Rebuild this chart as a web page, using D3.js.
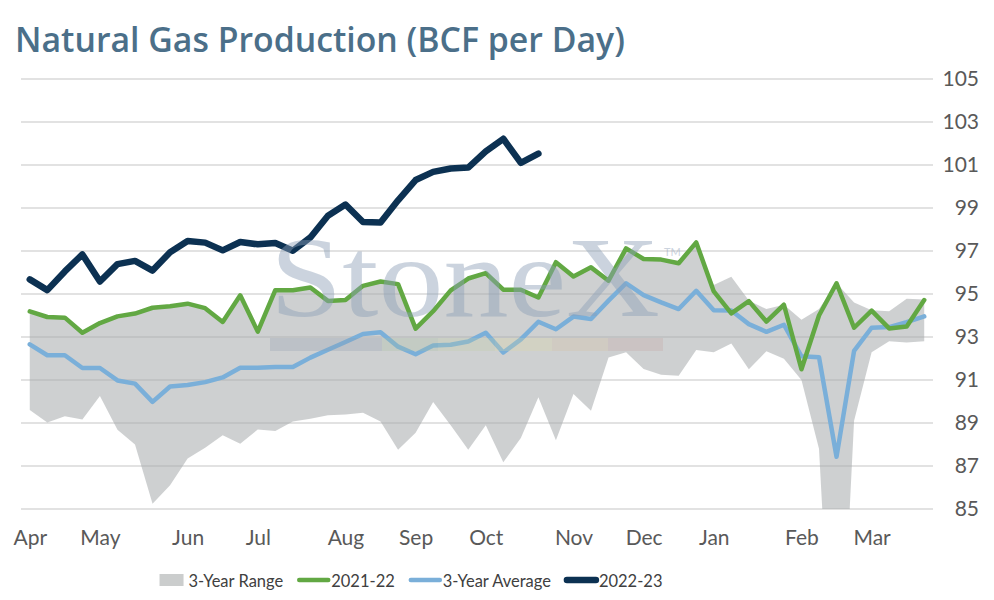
<!DOCTYPE html>
<html>
<head>
<meta charset="utf-8">
<script src="https://cdn.jsdelivr.net/npm/d3@7"></script>
<style>
  body { margin: 0; background: #fff; }
  text { font-family: Lato, "Open Sans", sans-serif; }
</style>
</head>
<body>
<script>
// weekly data, Apr -> Mar
let weeks = d3.range(1, 53)
let monthNames = ['Apr', 'May', 'Jun', 'Jul', 'Aug', 'Sep', 'Oct', 'Nov', 'Dec', 'Jan', 'Feb', 'Mar']
let monthWeeks = [1, 5, 10, 14, 19, 23, 27, 32, 36, 40, 45, 49]
let yTicks = [85, 87, 89, 91, 93, 95, 97, 99, 101, 103, 105]

let rangeLow = [89.6, 89.02, 89.31, 89.16, 90.26, 88.69, 88.0, 85.25, 86.1, 87.35,
    87.85, 88.43, 88.04, 88.7, 88.63, 89.07, 89.2, 89.36, 89.4, 89.48,
    89.07, 87.76, 88.55, 89.98, 88.89, 87.76, 88.9, 87.18, 88.3, 90.2,
    88.2, 90.35, 89.57, 92.05, 92.29, 91.51, 91.25, 91.2, 92.4, 92.29,
    92.7, 91.5, 92.34, 91.99, 91.0, 87.8, 72.7, 89.1, 92.29, 92.8,
    92.75, 92.8]
let rangeHigh = [94.19, 93.93, 93.9, 93.2, 93.65, 93.96, 94.09, 94.36, 94.43, 94.55,
    94.34, 93.7, 94.94, 93.25, 95.18, 95.17, 95.3, 94.68, 94.72, 95.38,
    95.58, 95.46, 93.39, 94.2, 95.17, 95.72, 95.97, 95.2, 95.2, 94.84,
    96.48, 95.81, 96.24, 95.62, 97.12, 96.63, 96.6, 96.43, 97.4, 95.42,
    95.8, 94.7, 94.3, 94.5, 93.8, 94.3, 95.5, 94.6, 94.25, 94.2,
    94.78, 94.74]
let prod2122 = [94.19, 93.93, 93.9, 93.2, 93.65, 93.96, 94.09, 94.36, 94.43, 94.55,
    94.34, 93.7, 94.94, 93.25, 95.18, 95.17, 95.3, 94.68, 94.72, 95.38,
    95.58, 95.46, 93.39, 94.2, 95.17, 95.72, 95.97, 95.2, 95.2, 94.84,
    96.48, 95.81, 96.24, 95.62, 97.12, 96.63, 96.6, 96.43, 97.4, 95.12,
    94.1, 94.67, 93.72, 94.5, 91.5, 94.0, 95.5, 93.43, 94.23, 93.4,
    93.49, 94.72]
let avg3yr = [92.66, 92.15, 92.15, 91.56, 91.56, 90.98, 90.83, 89.98, 90.7, 90.77,
    90.9, 91.12, 91.57, 91.57, 91.6, 91.6, 92.04, 92.41, 92.77, 93.14,
    93.22, 92.55, 92.2, 92.6, 92.64, 92.79, 93.2, 92.28, 92.89, 93.71,
    93.36, 93.95, 93.84, 94.69, 95.5, 94.95, 94.61, 94.3, 95.15, 94.24,
    94.23, 93.6, 93.24, 93.57, 92.1, 92.06, 87.43, 92.35, 93.43, 93.46,
    93.69, 93.96]
let prod2223 = [95.68, 95.18, 96.05, 96.84, 95.58, 96.39, 96.54, 96.09, 96.94, 97.46,
    97.39, 97.03, 97.42, 97.31, 97.37, 97.01, 97.63, 98.64, 99.16, 98.35,
    98.33, 99.36, 100.3, 100.68, 100.84, 100.88, 101.63, 102.22, 101.1, 101.53]

let width = 994
let height = 600
let plotLeft = 21
let plotRight = 933
let plotTop = 79
let plotBottom = 509

let x = d3.scalePoint()
    .domain(weeks)
    .range([plotLeft, plotRight])
    .padding(0.5)

let y = d3.scaleLinear()
    .domain([85, 105])
    .range([plotBottom, plotTop])

let svg = d3.select('body')
    .append('svg')
    .attr('width', width)
    .attr('height', height)

svg.append('text')
    .attr('x', 15)
    .attr('y', 52)
    .attr('fill', '#4b6f89')
    .attr('font-size', 33.8)
    .attr('font-weight', 600)
    .style('font-family', '"Open Sans", sans-serif')
    .text('Natural Gas Production (BCF per Day)')

svg.append('clipPath')
    .attr('id', 'plot')
    .append('rect')
    .attr('x', plotLeft)
    .attr('y', plotTop)
    .attr('width', plotRight - plotLeft)
    .attr('height', plotBottom - plotTop)

// gridlines
svg.append('g')
    .selectAll('line')
    .data(yTicks)
    .join('line')
    .attr('x1', plotLeft)
    .attr('x2', plotRight)
    .attr('y1', d => y(d))
    .attr('y2', d => y(d))
    .attr('stroke', '#d9d9d9')
    .attr('stroke-width', 1.5)

// right axis
let yAxis = svg.append('g')
    .attr('transform', `translate(${plotRight},0)`)
    .call(d3.axisRight(y).tickValues(yTicks).tickSize(0))
yAxis.select('.domain').remove()
yAxis.selectAll('text')
    .attr('x', 46)
    .attr('text-anchor', 'end')
    .attr('fill', '#595959')
    .attr('font-size', 21)
    .style('font-family', 'Lato, sans-serif')

// bottom axis
let xAxis = svg.append('g')
    .attr('transform', `translate(0,${plotBottom})`)
    .call(d3.axisBottom(x)
        .tickValues(monthWeeks)
        .tickFormat((d, i) => monthNames[i])
        .tickSize(0)
        .tickPadding(21))
xAxis.select('.domain').remove()
xAxis.selectAll('text')
    .attr('fill', '#595959')
    .attr('font-size', 21)
    .style('font-family', 'Lato, sans-serif')

let plot = svg.append('g').attr('clip-path', 'url(#plot)')

// 3-year range
let area = d3.area()
    .x((d, i) => x(weeks[i]))
    .y0((d, i) => y(rangeLow[i]))
    .y1(d => y(d))

plot.append('path')
    .datum(rangeHigh)
    .attr('d', area)
    .attr('fill', '#a6aaab')
    .attr('fill-opacity', 0.55)

// watermark
let mark = svg.append('g').attr('opacity', 0.45)
mark.append('text')
    .attr('x', 270)
    .attr('y', 316)
    .attr('font-size', 114)
    .attr('textLength', 390)
    .attr('lengthAdjust', 'spacingAndGlyphs')
    .attr('fill', '#8da0b8')
    .style('font-family', '"Liberation Serif", serif')
    .text('StoneX')
mark.append('text')
    .attr('x', 664)
    .attr('y', 256)
    .attr('font-size', 11)
    .attr('fill', '#8da0b8')
    .text('TM')
let barColors = ['#8e9cad', '#a9c0a0', '#c3cfa3', '#e0d9a0', '#d8c19c', '#c7a2a0']
let barEdges = [270, 382, 438, 495, 552, 608, 663]
mark.selectAll('rect')
    .data(barColors)
    .join('rect')
    .attr('x', (d, i) => barEdges[i])
    .attr('y', 338)
    .attr('width', (d, i) => barEdges[i + 1] - barEdges[i])
    .attr('height', 13)
    .attr('fill', d => d)
    .attr('opacity', 0.6)

let line = d3.line()
    .x((d, i) => x(weeks[i]))
    .y(d => y(d))

let series = [
    {values: avg3yr, color: '#7aafd9', width: 4.5},
    {values: prod2122, color: '#62a843', width: 4.5},
    {values: prod2223, color: '#0c3152', width: 6.5}
]

plot.selectAll('.series')
    .data(series)
    .join('path')
    .attr('class', 'series')
    .attr('d', d => line(d.values))
    .attr('fill', 'none')
    .attr('stroke', d => d.color)
    .attr('stroke-width', d => d.width)
    .attr('stroke-linejoin', 'round')
    .attr('stroke-linecap', 'round')

// legend
let legendItems = [
    {name: '3-Year Range', color: '#cbcdcd', kind: 'box'},
    {name: '2021-22', color: '#62a843', kind: 'line', width: 4.5},
    {name: '3-Year Average', color: '#7aafd9', kind: 'line', width: 4.5},
    {name: '2022-23', color: '#0c3152', kind: 'line', width: 6.5}
]
let legend = svg.append('g')
let lx = 0
legendItems.forEach(item => {
    let g = legend.append('g').attr('transform', `translate(${lx},0)`)
    let tx = item.kind == 'box' ? 29 : 34
    if (item.kind == 'box') {
        g.append('rect')
            .attr('x', 0).attr('y', -6)
            .attr('width', 24).attr('height', 12)
            .attr('fill', item.color)
    } else {
        g.append('line')
            .attr('x1', 2).attr('x2', 31)
            .attr('stroke', item.color)
            .attr('stroke-width', item.width)
            .attr('stroke-linecap', 'round')
    }
    let t = g.append('text')
        .attr('x', tx)
        .attr('y', 6.5)
        .attr('font-size', 16.5)
        .attr('fill', '#404040')
        .text(item.name)
    lx += tx + t.node().getComputedTextLength() + 14
})
legend.attr('transform', `translate(${411 - (lx - 14) / 2},580)`)
</script>
</body>
</html>
